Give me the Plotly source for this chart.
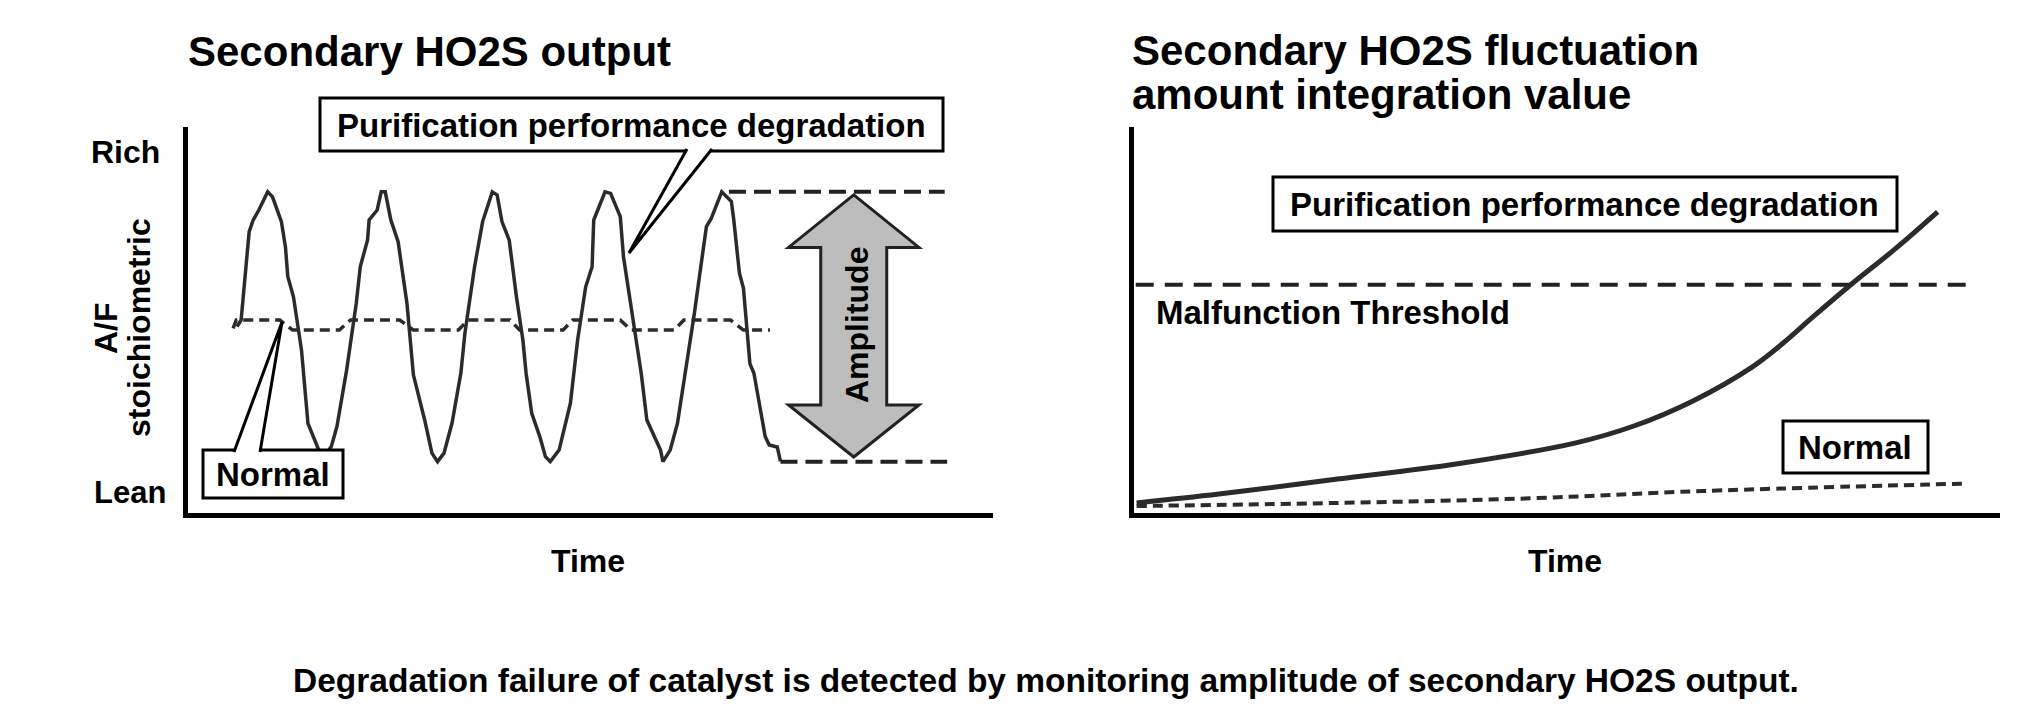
import plotly.graph_objects as go

W, H = 2031, 723

# ---------------- data ----------------
# Left panel: secondary HO2S output (time 0-100, signal Lean=0 .. Rich=100)
wave_time = [6.1, 6.6, 7.6, 8.1, 8.8, 9.9, 10.5, 11.6, 12.1, 12.4,
             13.1, 14.1, 14.9, 15.6, 16.4, 16.8, 17.8, 18.5, 19.7, 20.9,
             21.4, 22.3, 22.5, 23.5, 24.0, 24.5, 25.2, 26.1, 27.2, 28.0,
             29.4, 30.3, 31.0, 31.8, 32.8, 33.9, 34.4, 35.6, 36.6, 37.8,
             38.4, 39.0, 39.9, 40.8, 41.6, 42.0, 42.7, 43.7, 44.4, 45.0,
             46.1, 46.5, 47.5, 48.4, 49.4, 50.2, 50.4, 50.9, 51.8, 52.5,
             53.7, 54.1, 54.9, 55.6, 56.3, 57.0, 58.0, 58.7, 59.0, 59.9,
             60.8, 61.4, 62.2, 62.9, 63.7, 64.4, 65.0, 66.3, 67.5, 67.8,
             68.5, 69.0, 69.8, 70.3, 71.7, 72.2, 73.2, 73.6]
wave_signal = [48.3, 50.0, 72.9, 75.9, 78.5, 83.2, 81.9, 75.5, 69.0, 61.2,
               56.0, 42.2, 23.2, 19.8, 15.5, 14.2, 17.2, 22.4, 37.0, 54.3,
               63.8, 70.7, 75.9, 78.5, 83.2, 83.2, 75.9, 70.3, 54.3, 35.8,
               24.1, 15.5, 13.3, 15.5, 23.3, 36.3, 46.6, 63.8, 75.5, 83.2,
               82.4, 75.5, 70.7, 56.0, 44.8, 36.2, 25.8, 19.8, 14.6, 13.3,
               16.3, 19.8, 28.4, 44.8, 58.6, 63.8, 75.9, 78.5, 83.2, 82.8,
               76.8, 66.3, 55.2, 44.8, 36.2, 24.1, 19.4, 16.3, 13.3, 16.3,
               23.2, 31.0, 41.4, 51.7, 63.8, 74.2, 76.3, 83.2, 80.7, 75.9,
               62.1, 58.2, 38.7, 36.2, 19.8, 17.6, 17.1, 13.4]

normal_time = [5.6, 6.0, 11.4, 13.0, 18.8, 20.2, 26.3, 28.0, 33.6, 34.8,
               40.0, 41.2, 46.6, 47.8, 53.7, 55.0, 60.4, 61.6, 67.4, 69.0, 72.3]
normal_signal = [47.8, 50.0, 50.0, 47.4, 47.4, 50.0, 50.0, 47.4, 47.4, 50.0,
                 50.0, 47.4, 47.4, 50.0, 50.0, 47.4, 47.4, 50.0, 50.0, 47.4, 47.4]

amp_top_span = [67.2, 94.0]
amp_bottom_span = [73.6, 94.3]

# Right panel: fluctuation amount integration value
deg_time = [0.3, 9.8, 23.5, 37.2, 50.9, 57.8, 64.6, 71.5, 74.9, 78.4, 82.8, 88.0, 92.8]
deg_value = [2.6, 4.9, 8.8, 12.7, 18.1, 22.6, 29.1, 38.0, 43.9, 50.8, 59.2, 68.6, 78.0]

norm_time = [0.3, 23.4, 45.7, 65.7, 95.6]
norm_value = [1.8, 2.6, 3.8, 5.7, 7.6]

threshold_value = 59.1
threshold_span = [0.2, 97.2]

# ---------------- helpers ----------------
def PX(x):
    return x / W

def PY(y):
    return 1 - y / H

FONT = "Liberation Sans, Arial, sans-serif"
DARK = "#2b2b2b"

fig = go.Figure()

# left panel traces
fig.add_trace(go.Scatter(x=wave_time, y=wave_signal, mode="lines",
                         line=dict(color=DARK, width=3.5), xaxis="x", yaxis="y"))
fig.add_trace(go.Scatter(x=normal_time, y=normal_signal, mode="lines",
                         line=dict(color=DARK, width=3.5, dash="10px,6px"),
                         xaxis="x", yaxis="y"))
amp_hi = max(wave_signal)
amp_lo = min(wave_signal)
fig.add_trace(go.Scatter(x=amp_top_span + [None] + amp_bottom_span,
                         y=[amp_hi, amp_hi, None, amp_lo, amp_lo], mode="lines",
                         line=dict(color="#222222", width=4, dash="17px,8px"),
                         xaxis="x", yaxis="y"))

# right panel traces
fig.add_trace(go.Scatter(x=threshold_span, y=[threshold_value] * 2, mode="lines",
                         line=dict(color="#222222", width=4, dash="18px,11px"),
                         xaxis="x2", yaxis="y2"))
fig.add_trace(go.Scatter(x=deg_time, y=deg_value, mode="lines", line_shape="spline",
                         line=dict(color=DARK, width=5), xaxis="x2", yaxis="y2"))
fig.add_trace(go.Scatter(x=norm_time, y=norm_value, mode="lines", line_shape="spline",
                         line=dict(color=DARK, width=4, dash="10px,6px"),
                         xaxis="x2", yaxis="y2"))

axis_common = dict(range=[0, 100], showline=True, linecolor="black", linewidth=5,
                   showgrid=False, zeroline=False, showticklabels=False, ticks="",
                   fixedrange=True)

ydom = [PY(513), PY(127)]
fig.update_layout(
    width=W, height=H,
    margin=dict(l=0, r=0, t=0, b=0),
    paper_bgcolor="white", plot_bgcolor="white",
    showlegend=False,
    xaxis=dict(domain=[PX(188), PX(993)], anchor="y", **axis_common),
    yaxis=dict(domain=ydom, anchor="x", **axis_common),
    xaxis2=dict(domain=[PX(1134), PX(2000)], anchor="y2", **axis_common),
    yaxis2=dict(domain=ydom, anchor="x2", **axis_common),
)

shapes = []
BOX = dict(color="black", width=3)

def rect(x0, y0, x1, y1):
    shapes.append(dict(type="rect", xref="paper", yref="paper",
                       x0=PX(x0), x1=PX(x1), y0=PY(y1), y1=PY(y0),
                       line=BOX, fillcolor="white", layer="above"))

def wedge(ax, bx, by, tx, ty, inset):
    # white fill covering the box border, then two outline strokes
    shapes.append(dict(type="path", xref="paper", yref="paper",
                       path=f"M {PX(ax)},{PY(by + inset)} L {PX(tx)},{PY(ty)} L {PX(bx)},{PY(by + inset)} Z",
                       fillcolor="white", line=dict(width=0), layer="above"))
    shapes.append(dict(type="path", xref="paper", yref="paper",
                       path=f"M {PX(ax)},{PY(by + inset)} L {PX(tx)},{PY(ty)} L {PX(bx)},{PY(by + inset)}",
                       fillcolor="rgba(0,0,0,0)", line=BOX, layer="above"))

# left "Purification performance degradation" callout
rect(320, 98, 943, 151)
wedge(687, 712, 151, 629, 253, -2)
# left "Normal" callout
rect(203, 450, 343, 498)
wedge(234, 260, 450, 282, 322, 2)
# right boxes
rect(1273, 177, 1897, 231)
rect(1783, 421, 1928, 473)

# double-headed amplitude arrow (left data coordinates)
cx, hw, sw = 82.7, 8.1, 4.1
top_tip, top_base, bot_base, bot_tip = 82.4, 68.8, 28.0, 14.5
arrow = (f"M {cx},{top_tip} L {cx+hw},{top_base} L {cx+sw},{top_base} L {cx+sw},{bot_base} "
         f"L {cx+hw},{bot_base} L {cx},{bot_tip} L {cx-hw},{bot_base} L {cx-sw},{bot_base} "
         f"L {cx-sw},{top_base} L {cx-hw},{top_base} Z")
shapes.append(dict(type="path", xref="x", yref="y", path=arrow,
                   fillcolor="#bdbdbd", line=dict(color="#222222", width=3), layer="above"))

fig.update_layout(shapes=shapes)

ann = []

def text(s, x, y, size, xanchor="center", angle=0):
    ann.append(dict(text=f"<b>{s}</b>", x=PX(x), y=PY(y), xref="paper", yref="paper",
                    xanchor=xanchor, yanchor="middle", showarrow=False, textangle=angle,
                    font=dict(family=FONT, size=size, color="black"), borderpad=0))

text("Secondary HO2S output", 187, 52, 42, "left")
text("Secondary HO2S fluctuation", 1131, 51, 42, "left")
text("amount integration value", 1131, 95, 42, "left")
text("Rich", 125, 152, 32)
text("Lean", 130, 492, 31)
text("A/F", 106, 328, 32, angle=-90)
text("stoichiometric", 139, 328, 32, angle=-90)
text("Purification performance degradation", 631, 125, 33)
text("Normal", 273, 474, 33)
text("Amplitude", 857, 325, 32, angle=-90)
text("Time", 588, 561, 32)
text("Time", 1565, 561, 32)
text("Purification performance degradation", 1584, 204, 33)
text("Malfunction Threshold", 1155, 312, 33, "left")
text("Normal", 1855, 447, 33)
text("Degradation failure of catalyst is detected by monitoring amplitude of secondary HO2S output.",
     1046, 680, 33.5)

fig.update_layout(annotations=ann)

fig.write_html(
    "out.html",
    config={"displayModeBar": False},
    post_script="document.body.style.margin='0';document.body.style.padding='0';"
                "document.body.style.overflow='hidden';",
)
